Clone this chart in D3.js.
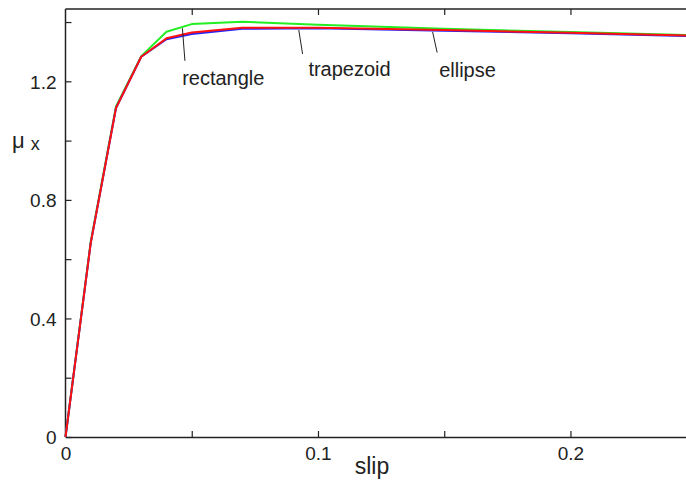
<!DOCTYPE html>
<html>
<head>
<meta charset="utf-8">
<script src="https://cdn.jsdelivr.net/npm/d3@7"></script>
<style>
  html, body { margin: 0; padding: 0; background: #fff; overflow: hidden; }
  svg { display: block; font-family: "Liberation Sans", Arial, sans-serif; }
</style>
</head>
<body>
<svg id="chart" width="686" height="481"></svg>
<script>
// Longitudinal friction coefficient vs. slip for three contact-patch shapes
const slip = [0, 0.01, 0.02, 0.03, 0.04, 0.05, 0.07, 0.10, 0.15, 0.20, 0.25];
const rectangle = [0, 0.660, 1.115, 1.285, 1.367, 1.393, 1.401, 1.391, 1.377, 1.366, 1.355];
const ellipse   = [0, 0.655, 1.110, 1.283, 1.342, 1.360, 1.377, 1.379, 1.371, 1.362, 1.352];
const trapezoid = [0, 0.655, 1.110, 1.283, 1.345, 1.365, 1.381, 1.381, 1.373, 1.364, 1.354];

const seriesNames  = ["rectangle", "ellipse", "trapezoid"];
const seriesValues = [rectangle, ellipse, trapezoid];
const seriesColors = ["#22ee22", "#2222ff", "#ff1111"];

const xTicksMajor = [0, 0.1, 0.2];
const xTicksMinor = [0.05, 0.15];
const yTicksMajor = [0, 0.4, 0.8, 1.2];
const yTicksMinor = [0.2, 0.6, 1.0, 1.4];

// annotation labels with leader lines, in data units
const labelNames = ["rectangle", "trapezoid", "ellipse"];
const labelPos   = [[0.0462, 1.188], [0.0962, 1.218], [0.1480, 1.214]];
const leaderFrom = [[0.0463, 1.379], [0.0924, 1.373], [0.1454, 1.367]];
const leaderTo   = [[0.0473, 1.269], [0.0939, 1.292], [0.1472, 1.297]];

const svg = d3.select("#chart");
const x = d3.scaleLinear().domain([0, 0.25]).range([65.5, 696.7]);
const y = d3.scaleLinear().domain([0, 1.444]).range([437, 9]);

const axisColor = "#222";
const tickLen = 6;
const fontTick = 19;

// frame: left and top lines
svg.append("line")
  .attr("x1", x(0)).attr("x2", x(0))
  .attr("y1", y(0)).attr("y2", y.range()[1])
  .attr("stroke", axisColor).attr("stroke-width", 1.5);
svg.append("line")
  .attr("x1", x(0)).attr("x2", x(0.25))
  .attr("y1", y.range()[1]).attr("y2", y.range()[1])
  .attr("stroke", axisColor).attr("stroke-width", 1.5);

// bottom axis
const xAxis = d3.axisBottom(x)
  .tickValues(xTicksMajor.concat(xTicksMinor))
  .tickSizeInner(-tickLen).tickSizeOuter(0)
  .tickFormat(d => xTicksMajor.includes(d) ? (d === 0 ? "0" : d3.format(".1f")(d)) : "");
const gx = svg.append("g").attr("transform", `translate(0,${y(0)})`).call(xAxis);
gx.select(".domain").attr("stroke", axisColor).attr("stroke-width", 1.5);
gx.selectAll(".tick line").attr("stroke", axisColor).attr("stroke-width", 1.2);
gx.selectAll(".tick text")
  .attr("font-size", fontTick).attr("fill", "#222")
  .attr("font-family", "Liberation Sans, Arial, sans-serif")
  .attr("y", 23).attr("dy", 0);

// top ticks
const gxt = svg.append("g").attr("transform", `translate(0,${y.range()[1]})`)
  .call(d3.axisTop(x).tickValues(xTicksMajor.concat(xTicksMinor).filter(d => d > 0))
    .tickSizeInner(-tickLen).tickSizeOuter(0).tickFormat(""));
gxt.select(".domain").remove();
gxt.selectAll(".tick line").attr("stroke", axisColor).attr("stroke-width", 1.2);

// left axis
const yAxis = d3.axisLeft(y)
  .tickValues(yTicksMajor.concat(yTicksMinor))
  .tickSizeInner(-tickLen).tickSizeOuter(0)
  .tickFormat(d => yTicksMajor.includes(d) ? (d === 0 ? "0" : d3.format(".1f")(d)) : "");
const gy = svg.append("g").attr("transform", `translate(${x(0)},0)`).call(yAxis);
gy.select(".domain").remove();
gy.selectAll(".tick line").attr("stroke", axisColor).attr("stroke-width", 1.2);
gy.selectAll(".tick text")
  .attr("font-size", fontTick).attr("fill", "#222")
  .attr("font-family", "Liberation Sans, Arial, sans-serif")
  .attr("x", -9).attr("dy", "0.36em");

// curves
const line = d3.line().x((d, i) => x(slip[i])).y(d => y(d));
seriesValues.forEach((vals, k) => {
  svg.append("path")
    .datum(vals)
    .attr("class", "curve " + seriesNames[k])
    .attr("fill", "none")
    .attr("stroke", seriesColors[k])
    .attr("stroke-width", 2)
    .attr("stroke-linejoin", "round")
    .attr("d", line);
});

// annotations
labelNames.forEach((name, i) => {
  svg.append("line")
    .attr("x1", x(leaderFrom[i][0])).attr("y1", y(leaderFrom[i][1]))
    .attr("x2", x(leaderTo[i][0])).attr("y2", y(leaderTo[i][1]))
    .attr("stroke", "#222").attr("stroke-width", 1);
  svg.append("text")
    .attr("x", x(labelPos[i][0])).attr("y", y(labelPos[i][1]))
    .attr("font-size", 20).attr("fill", "#222")
    .text(name);
});

// axis titles
svg.append("text")
  .attr("x", 372).attr("y", 473.5)
  .attr("text-anchor", "middle")
  .attr("font-size", 23).attr("fill", "#222")
  .text("slip");

const yt = svg.append("text").attr("x", 12).attr("y", 148).attr("fill", "#222");
yt.append("tspan").attr("font-size", 22).text("μ");
yt.append("tspan").attr("font-size", 18).attr("dx", 6).attr("dy", 2).text("x");
</script>
</body>
</html>
